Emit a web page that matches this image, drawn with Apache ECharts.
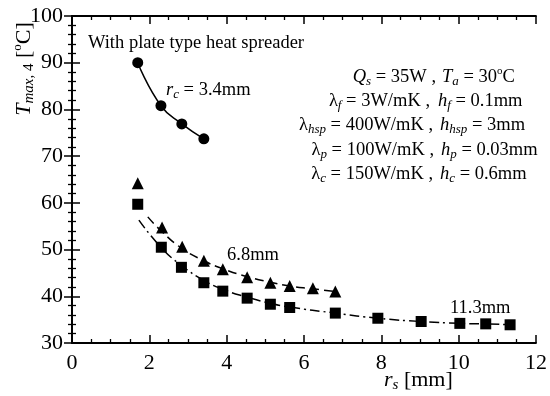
<!DOCTYPE html>
<html><head><meta charset="utf-8">
<script src="https://cdn.jsdelivr.net/npm/echarts@6/dist/echarts.min.js"></script>
<style>html,body{margin:0;padding:0;background:#fff}#c{width:550px;height:396px}</style>
</head><body><div id="c"></div>
<script>
// ---- data ----
const xTicks = [0, 2, 4, 6, 8, 10, 12];
const yTicks = [30, 40, 50, 60, 70, 80, 90, 100];

const rc34_x = [1.70, 2.30, 2.84, 3.41];
const rc34_y = [90.0, 80.8, 76.9, 73.7];

const r68_x = [1.70, 2.33, 2.85, 3.41, 3.90, 4.53, 5.13, 5.63, 6.23, 6.81];
const r68_y = [64.2, 54.7, 50.6, 47.6, 45.8, 44.1, 42.9, 42.2, 41.7, 41.0];

const r113_x = [1.70, 2.31, 2.83, 3.41, 3.90, 4.53, 5.13, 5.63, 6.81, 7.91, 9.03, 10.03, 10.70, 11.33];
const r113_y = [59.7, 50.5, 46.2, 42.9, 41.1, 39.6, 38.3, 37.6, 36.4, 35.3, 34.6, 34.2, 34.1, 33.9];

const fit68_x = [1.96, 2.33, 2.85, 3.41, 3.90, 4.53, 5.13, 5.63, 6.23, 6.81];
const fit68_y = [57.0, 53.8, 50.2, 47.6, 45.9, 44.2, 43.0, 42.2, 41.6, 41.0];

const fit113_x = [1.73, 2.31, 2.83, 3.41, 3.90, 4.53, 5.13, 5.63, 6.81, 7.91, 9.03, 10.03, 10.70, 11.33];
const fit113_y = [56.3, 50.4, 46.6, 43.4, 41.5, 39.8, 38.5, 37.7, 36.4, 35.3, 34.6, 34.2, 34.1, 33.9];

// ---- helpers ----
const zip = (xs, ys) => xs.map((x, i) => [x, ys[i]]);
const F = 'Liberation Serif';
const rich = (fs) => ({
  n: {fontFamily: F, fontSize: fs, color: '#000', lineHeight: fs + 4},
  i: {fontFamily: F, fontSize: fs, fontStyle: 'italic', color: '#000', lineHeight: fs + 4},
  sb: {fontFamily: F, fontSize: Math.round(fs * 0.68), fontStyle: 'italic', color: '#000', lineHeight: Math.round(fs * 0.72), verticalAlign: 'bottom'},
  sbn: {fontFamily: F, fontSize: Math.round(fs * 0.68), color: '#000', lineHeight: Math.round(fs * 0.72), verticalAlign: 'bottom'},
  sp: {fontFamily: F, fontSize: Math.round(fs * 0.6), color: '#000', lineHeight: Math.round(fs * 0.7), verticalAlign: 'top'}
});
function txt(x, y, text, fs, align, rot) {
  return {
    type: 'text', x: x, y: y, rotation: rot || 0, z: 100,
    style: {text: text, rich: rich(fs), fontFamily: F, fontSize: fs, fill: '#000',
      align: align || 'left', verticalAlign: 'middle', textAlign: align || 'left', textVerticalAlign: 'middle'}
  };
}

const axisCommon = {
  type: 'value',
  axisLine: {show: true, lineStyle: {color: '#000', width: 1.8}},
  axisTick: {show: true, inside: true, length: 8, lineStyle: {color: '#000', width: 1.5}},
  minorTick: {show: true, length: 4, lineStyle: {color: '#000', width: 1.3}},
  splitLine: {show: false},
  minorSplitLine: {show: false},
  axisLabel: {fontFamily: F, fontSize: 22, color: '#000', margin: 9}
};

const chart = echarts.init(document.getElementById('c'), null, {renderer: 'canvas'});
chart.setOption({
  animation: false,
  backgroundColor: '#fff',
  grid: {left: 72, right: 13, top: 16, bottom: 53, containLabel: false},
  xAxis: [
    Object.assign({}, axisCommon, {min: xTicks[0], max: xTicks[xTicks.length - 1], interval: 2, position: 'bottom',
      minorTick: Object.assign({}, axisCommon.minorTick, {splitNumber: 4})}),
    Object.assign({}, axisCommon, {min: xTicks[0], max: xTicks[xTicks.length - 1], interval: 2, position: 'top',
      minorTick: Object.assign({}, axisCommon.minorTick, {splitNumber: 4}), axisLabel: {show: false}})
  ],
  yAxis: [
    Object.assign({}, axisCommon, {min: yTicks[0], max: yTicks[yTicks.length - 1], interval: 10, position: 'left',
      minorTick: Object.assign({}, axisCommon.minorTick, {splitNumber: 5})}),
    Object.assign({}, axisCommon, {min: yTicks[0], max: yTicks[yTicks.length - 1], interval: 10, position: 'right',
      minorTick: Object.assign({}, axisCommon.minorTick, {splitNumber: 5}), axisLabel: {show: false}})
  ],
  series: [
    {type: 'line', data: zip(rc34_x, rc34_y), smooth: true, symbol: 'circle', symbolSize: 11,
      itemStyle: {color: '#000', opacity: 1}, lineStyle: {color: '#000', width: 1.5}},
    {type: 'line', data: zip(fit68_x, fit68_y), smooth: true, showSymbol: false,
      lineStyle: {color: '#000', width: 1.5, type: [9, 5]}},
    {type: 'line', data: zip(fit113_x, fit113_y), smooth: true, showSymbol: false,
      lineStyle: {color: '#000', width: 1.5, type: [10, 4, 2, 4]}},
    {type: 'scatter', data: zip(r68_x, r68_y), symbol: 'triangle', symbolSize: 12, z: 5,
      itemStyle: {color: '#000', opacity: 1}},
    {type: 'scatter', data: zip(r113_x, r113_y), symbol: 'rect', symbolSize: 11, z: 5,
      itemStyle: {color: '#000', opacity: 1}}
  ],
  graphic: [
    txt(88, 43, '{n|With plate type heat spreader}', 18.5, 'left'),
    txt(166, 90, '{i|r}{sb|c}{n| = 3.4mm}', 18.5, 'left'),
    txt(436, 77, '{i|Q}{sb|s}{n| = 35W ,}', 18.5, 'right'),
    txt(442, 77, '{i|T}{sb|a}{n| = 30}{sp|o}{n|C}', 18.5, 'left'),
    txt(430, 101, '{n|λ}{sb|f}{n| = 3W/mK ,}', 18.5, 'right'),
    txt(438, 101, '{i|h}{sb|f}{n| = 0.1mm}', 18.5, 'left'),
    txt(433, 125, '{n|λ}{sb|hsp}{n| = 400W/mK ,}', 18.5, 'right'),
    txt(440, 125, '{i|h}{sb|hsp}{n| = 3mm}', 18.5, 'left'),
    txt(434, 150, '{n|λ}{sb|p}{n| = 100W/mK ,}', 18.5, 'right'),
    txt(441, 150, '{i|h}{sb|p}{n| = 0.03mm}', 18.5, 'left'),
    txt(433, 174, '{n|λ}{sb|c}{n| = 150W/mK ,}', 18.5, 'right'),
    txt(440, 174, '{i|h}{sb|c}{n| = 0.6mm}', 18.5, 'left'),
    txt(227, 255, '{n|6.8mm}', 18.5, 'left'),
    txt(450, 308, '{n|11.3mm}', 18.5, 'left'),
    txt(384, 380, '{i|r}{sb|s}{n| [mm]}', 22, 'left'),
    txt(24, 69, '{i|T}{sb|max, }{sbn|4}{n| [}{sp|o}{n|C]}', 22, 'center', Math.PI / 2)
  ]
});
</script>
</body></html>
